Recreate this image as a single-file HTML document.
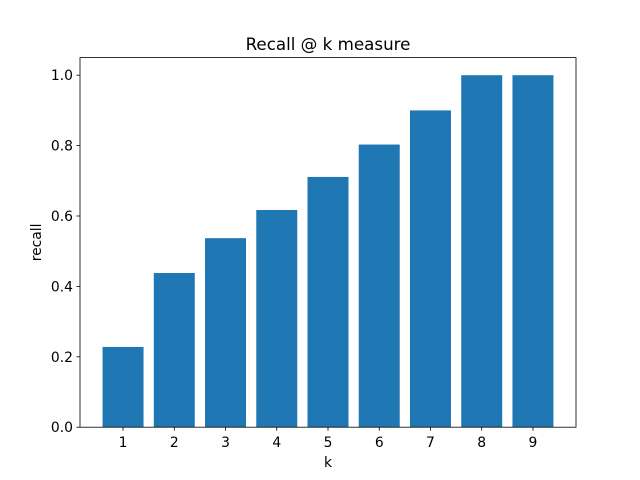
<!DOCTYPE html>
<html><head><meta charset="utf-8"><style>
body{margin:0;background:#fff}
svg{display:block;font-family:"DejaVu Sans","Liberation Sans",sans-serif}
</style></head><body>
<svg id="chart" width="640" height="480">
<rect width="640" height="480" fill="#fff"/>
<text x="328" y="50" text-anchor="middle" font-size="16.7">Recall @ k measure</text>
<text x="328" y="467" text-anchor="middle" font-size="13.9">k</text>
<text transform="translate(41,242.4) rotate(-90)" text-anchor="middle" font-size="13.9">recall</text>
<g id="bars"></g><g id="ticks"></g>
<rect x="80" y="57.6" width="496" height="369.6" fill="none" stroke="#000" stroke-width="0.8"/>
</svg>
<script>
const categories=[1,2,3,4,5,6,7,8,9];
const recallValues=[0.228,0.438,0.537,0.617,0.711,0.803,0.90,1.0,1.0];
const yTicks=[0.0,0.2,0.4,0.6,0.8,1.0];
const yTickLabels=["0.0","0.2","0.4","0.6","0.8","1.0"];
const NS="http://www.w3.org/2000/svg";
const L=80,R=576,T=57.6,B=427.2,xmin=0.16,xmax=9.84,ymin=0,ymax=1.05;
const xs=v=>L+(v-xmin)/(xmax-xmin)*(R-L);
const ys=v=>B-(v-ymin)/(ymax-ymin)*(B-T);
function mk(t,a,p){const e=document.createElementNS(NS,t);for(const k in a)e.setAttribute(k,a[k]);p.appendChild(e);return e;}
const bars=document.getElementById('bars'),ticks=document.getElementById('ticks');
categories.forEach((c,i)=>{
 const r=mk('rect',{x:xs(c-0.4),y:ys(recallValues[i]),width:xs(c+0.4)-xs(c-0.4),height:ys(0)-ys(recallValues[i]),fill:'#1f77b4'},bars);
 
 
 const l=mk('line',{x1:xs(c),x2:xs(c),y1:B,y2:B+3.5,stroke:'#000','stroke-width':0.8},ticks);
 
 
 const t=mk('text',{x:xs(c),y:B+20,'text-anchor':'middle','font-size':13.9},ticks);t.textContent=c;
 
 
});
yTicks.forEach((v,i)=>{
 const l=mk('line',{x1:L-3.5,x2:L,y1:ys(v),y2:ys(v),stroke:'#000','stroke-width':0.8},ticks);
 
 
 const t=mk('text',{x:L-7,y:ys(v)+5,'text-anchor':'end','font-size':13.9},ticks);t.textContent=yTickLabels[i];
 
 
});
</script>
</body></html>
